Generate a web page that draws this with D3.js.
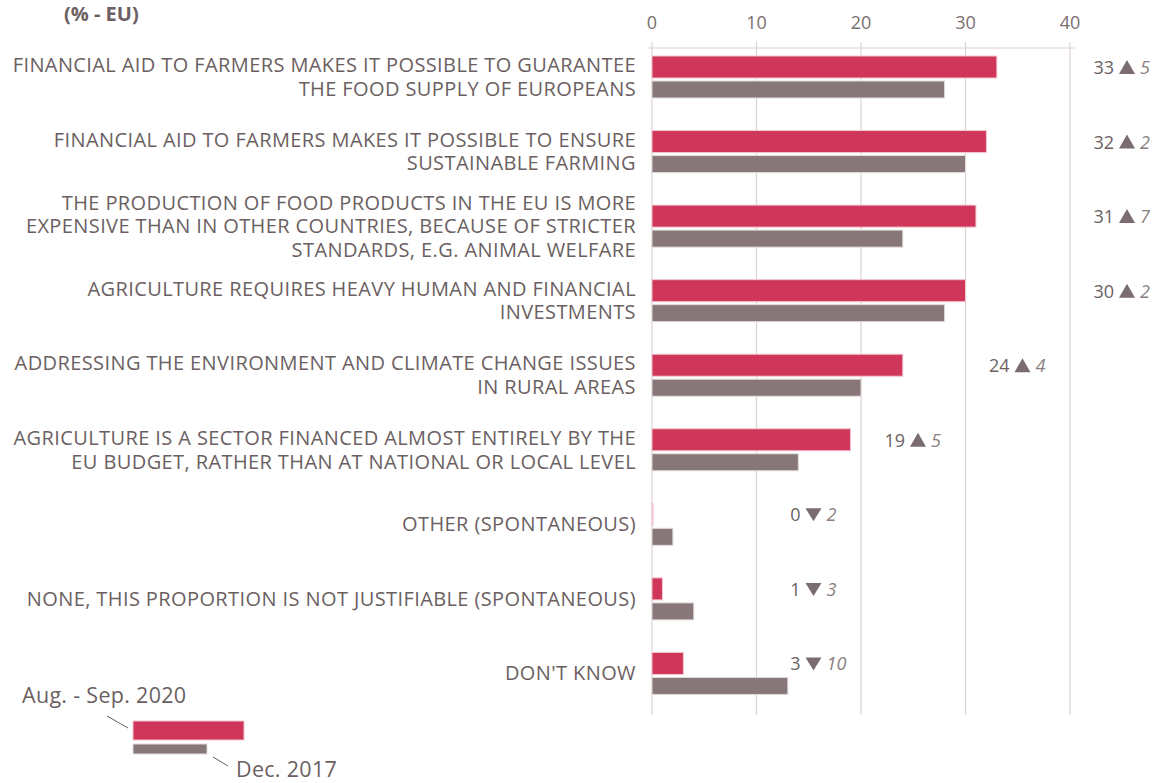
<!DOCTYPE html>
<html>
<head>
<meta charset="utf-8">
<script src="https://cdn.jsdelivr.net/npm/d3@7"></script>
<style>
  body { margin: 0; background: #fff; }
  text { font-family: "Open Sans", "Noto Sans", sans-serif; fill: #6b5f62; }
</style>
</head>
<body>
<div id="chart"></div>
<script>
// categories (label lines) and values
var categories = [
  ["FINANCIAL AID TO FARMERS MAKES IT POSSIBLE TO GUARANTEE", "THE FOOD SUPPLY OF EUROPEANS"],
  ["FINANCIAL AID TO FARMERS MAKES IT POSSIBLE TO ENSURE", "SUSTAINABLE FARMING"],
  ["THE PRODUCTION OF FOOD PRODUCTS IN THE EU IS MORE", "EXPENSIVE THAN IN OTHER COUNTRIES, BECAUSE OF STRICTER", "STANDARDS, E.G. ANIMAL WELFARE"],
  ["AGRICULTURE REQUIRES HEAVY HUMAN AND FINANCIAL", "INVESTMENTS"],
  ["ADDRESSING THE ENVIRONMENT AND CLIMATE CHANGE ISSUES", "IN RURAL AREAS"],
  ["AGRICULTURE IS A SECTOR FINANCED ALMOST ENTIRELY BY THE", "EU BUDGET, RATHER THAN AT NATIONAL OR LOCAL LEVEL"],
  ["OTHER (SPONTANEOUS)"],
  ["NONE, THIS PROPORTION IS NOT JUSTIFIABLE (SPONTANEOUS)"],
  ["DON'T KNOW"]
];
var values2020 = [33, 32, 31, 30, 24, 19, 0, 1, 3];
var values2017 = [28, 30, 24, 28, 20, 14, 2, 4, 13];
var xTicks = [0, 10, 20, 30, 40];
var seriesNames = ["Aug. - Sep. 2020", "Dec. 2017"];

var W = 1157, H = 783;
var red = "#cf3659", grey = "#877779";

var svg = d3.select("#chart").append("svg")
  .attr("width", W).attr("height", H);

var x = d3.scaleLinear().domain([0, 40]).range([652, 1070]);
var y = d3.scaleBand().domain(d3.range(categories.length)).range([45, 716]);

// unit title
svg.append("text")
  .attr("x", 64).attr("y", 21)
  .style("font-size", "20px").style("font-weight", "bold")
  .text("(% - EU)");

// gridlines
svg.selectAll(".grid").data(xTicks).enter().append("line")
  .attr("x1", d => x(d)).attr("x2", d => x(d))
  .attr("y1", 42).attr("y2", 715)
  .attr("stroke", "#ddd3d0").attr("stroke-width", 1.2);

svg.append("line")
  .attr("x1", 647).attr("x2", 1075).attr("y1", 48).attr("y2", 48)
  .attr("stroke", "#ddd3d0").attr("stroke-width", 1.2);

// tick labels
svg.selectAll(".tick").data(xTicks).enter().append("text")
  .attr("x", d => x(d)).attr("y", 29)
  .attr("text-anchor", "middle")
  .style("font-size", "18px").style("fill", "#7a6e70")
  .text(d => d);

var rows = svg.selectAll(".row").data(categories).enter().append("g")
  .attr("transform", (d, i) => "translate(0," + y(i) + ")");

// bars
rows.append("rect")
  .attr("x", x(0)).attr("y", 11)
  .attr("width", (d, i) => Math.max(1, x(values2020[i]) - x(0)))
  .attr("height", 22)
  .attr("fill", red).attr("stroke", "#f2c6d0").attr("stroke-width", 1);

rows.append("rect")
  .attr("x", x(0)).attr("y", 36)
  .attr("width", (d, i) => Math.max(1, x(values2017[i]) - x(0)))
  .attr("height", 17)
  .attr("fill", grey).attr("stroke", "#e2dcdc").attr("stroke-width", 1);

// category labels
rows.each(function(lines) {
  var g = d3.select(this);
  var n = lines.length;
  lines.forEach(function(l, k) {
    g.append("text")
      .attr("x", 636)
      .attr("y", 32 + (k - (n - 1) / 2) * 23.5 + 7)
      .attr("text-anchor", "end")
      .style("font-size", "20px")
      .style("letter-spacing", "0.4px")
      .text(l);
  });
});

// value + change labels, placed past the next gridline
rows.each(function(d, i) {
  var g = d3.select(this);
  var v = values2020[i], diff = v - values2017[i];
  var gx = x((Math.floor(v / 10) + 1) * 10);
  var ty = 25;
  g.append("text")
    .attr("x", gx + 44).attr("y", ty + 4)
    .attr("text-anchor", "end")
    .style("font-size", "18px")
    .text(v);
  var tx = gx + 57;
  var up = diff >= 0;
  var pts = up
    ? [[tx - 8, ty + 4], [tx + 8, ty + 4], [tx, ty - 10]]
    : [[tx - 8, ty - 9], [tx + 8, ty - 9], [tx, ty + 4]];
  g.append("polygon")
    .attr("points", pts.map(p => p.join(",")).join(" "))
    .attr("fill", "#7b6c6f");
  g.append("text")
    .attr("x", tx + 13).attr("y", ty + 4)
    .style("font-size", "18px").style("font-style", "italic")
    .style("fill", "#8a7e80")
    .text(Math.abs(diff));
});

// legend
var lg = svg.append("g");
lg.append("rect").attr("x", 133).attr("y", 721).attr("width", 111).attr("height", 19)
  .attr("fill", red).attr("stroke", "#f2c6d0");
lg.append("rect").attr("x", 133).attr("y", 744).attr("width", 74).attr("height", 10)
  .attr("fill", grey).attr("stroke", "#e2dcdc");
lg.append("line").attr("x1", 107).attr("y1", 716).attr("x2", 128).attr("y2", 728)
  .attr("stroke", "#6b5f62");
lg.append("line").attr("x1", 213).attr("y1", 757).attr("x2", 228).attr("y2", 766)
  .attr("stroke", "#6b5f62");
lg.append("text").attr("x", 22).attr("y", 703).style("font-size", "21.5px")
  .style("letter-spacing", "0.3px").text(seriesNames[0]);
lg.append("text").attr("x", 236).attr("y", 777).style("font-size", "21.5px")
  .style("letter-spacing", "0.3px").text(seriesNames[1]);
</script>
</body>
</html>
